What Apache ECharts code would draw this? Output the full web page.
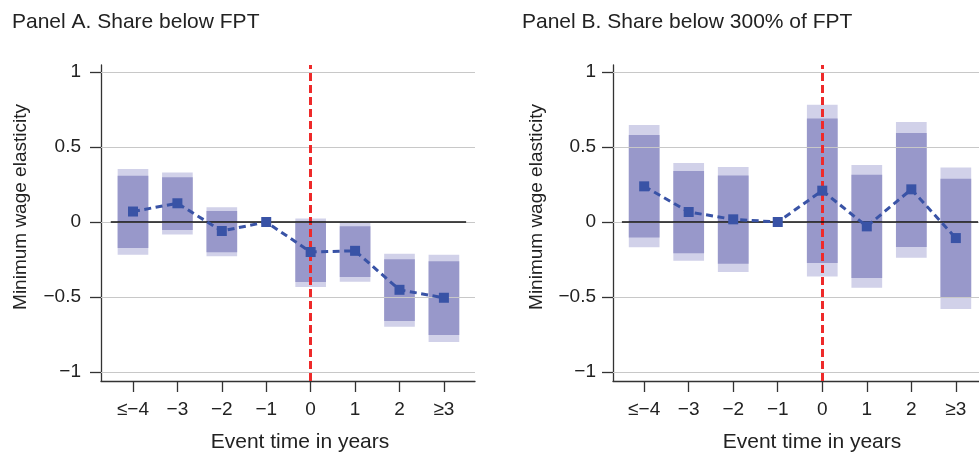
<!DOCTYPE html>
<html>
<head>
<meta charset="utf-8">
<script src="https://cdn.jsdelivr.net/npm/echarts@6/dist/echarts.min.js"></script>
<style>
html,body{margin:0;padding:0;background:#fff;}
#chart{width:979px;height:452px;}
</style>
</head>
<body>
<div id="chart"></div>
<script>
// ---- data ----
const eventTimes = [-4, -3, -2, -1, 0, 1, 2, 3];
const xTickLabels = ['≤−4', '−3', '−2', '−1', '0', '1', '2', '≥3'];
const yTicks = [-1, -0.5, 0, 0.5, 1];
const yTickLabels = ['−1', '−0.5', '0', '0.5', '1'];

const titleA = 'Panel A. Share below FPT';
const titleB = 'Panel B. Share below 300% of FPT';
const xName = 'Event time in years';
const yName = 'Minimum wage elasticity';

// Panel A
const pointA      = [0.070, 0.125, -0.060, 0, -0.200, -0.192, -0.452, -0.505];
const outerLowA   = [-0.218, -0.084, -0.229, null, -0.433, -0.398, -0.698, -0.800];
const innerLowA   = [-0.173, -0.053, -0.202, null, -0.400, -0.367, -0.660, -0.753];
const innerHighA  = [0.309, 0.298, 0.073, null, 0.002, -0.029, -0.249, -0.262];
const outerHighA  = [0.353, 0.331, 0.098, null, 0.024, 0.002, -0.211, -0.218];

// Panel B
const pointB      = [0.238, 0.067, 0.018, 0, 0.209, -0.029, 0.218, -0.107];
const outerLowB   = [-0.169, -0.258, -0.333, null, -0.364, -0.438, -0.238, -0.580];
const innerLowB   = [-0.104, -0.209, -0.278, null, -0.273, -0.373, -0.167, -0.502];
const innerHighB  = [0.580, 0.340, 0.311, null, 0.691, 0.316, 0.593, 0.289];
const outerHighB  = [0.647, 0.393, 0.367, null, 0.782, 0.380, 0.667, 0.364];

// ---- styling ----
const FONT = "'Liberation Sans', Arial, Helvetica, sans-serif";
const TXT = '#222';
const OUTER_COL = '#d1d1e9';
const INNER_COL = '#9898ca';
const LINE_COL = '#3953a6';
const RED = '#ee2a2a';

function ranges(lo, hi) {
  const out = [];
  eventTimes.forEach((t, i) => {
    if (lo[i] !== null && hi[i] !== null) out.push([t, lo[i], hi[i]]);
  });
  return out;
}

function renderBar(params, api) {
  const x = api.value(0);
  const p1 = api.coord([x, api.value(2)]);
  const p2 = api.coord([x, api.value(1)]);
  const w = api.size([1, 0])[0] * 0.69;
  return {
    type: 'rect',
    shape: { x: p1[0] - w / 2, y: p1[1], width: w, height: p2[1] - p1[1] },
    style: { fill: api.visual('color') }
  };
}

function xAxisCfg(idx, min, max, padLeft) {
  return {
    type: 'value', gridIndex: idx, min: min, max: max,
    axisLine: { show: true, onZero: false, lineStyle: { color: '#333', width: 1.3 } },
    axisTick: { show: true, length: 11, customValues: eventTimes, lineStyle: { color: '#333', width: 1.3 } },
    axisLabel: {
      customValues: eventTimes, margin: 19, fontSize: 19, color: TXT, fontFamily: FONT,
      formatter: v => xTickLabels[eventTimes.indexOf(Math.round(v))]
    },
    splitLine: { show: false },
    name: xName, nameLocation: 'middle', nameGap: 51,
    nameTextStyle: { fontSize: 21, color: TXT, fontFamily: FONT, padding: [0, 0, 0, padLeft] }
  };
}

function yAxisCfg(idx, margin, gap) {
  return {
    type: 'value', gridIndex: idx, min: -1.06, max: 1.047,
    axisLine: { show: true, onZero: false, lineStyle: { color: '#333', width: 1.3 } },
    axisTick: { show: true, length: 11, customValues: yTicks, lineStyle: { color: '#333', width: 1.3 } },
    axisLabel: {
      customValues: yTicks, margin: margin, fontSize: 19, color: TXT, fontFamily: FONT,
      formatter: v => yTickLabels[yTicks.indexOf(Math.round(v * 2) / 2)]
    },
    splitLine: { show: false },
    name: yName, nameLocation: 'middle', nameGap: gap, nameRotate: 90,
    nameTextStyle: { fontSize: 19, color: TXT, fontFamily: FONT, padding: [0, 0, 0, 32] }
  };
}

function panelSeries(idx, point, oLo, oHi, iLo, iHi) {
  return [
    { // grid lines + red event line
      type: 'line', xAxisIndex: idx, yAxisIndex: idx, z: 1, silent: true,
      data: eventTimes.map((t, i) => [t, point[i]]), symbol: 'none',
      lineStyle: { opacity: 0 },
      markLine: {
        silent: true, symbol: 'none', label: { show: false },
        animation: false,
        data: yTicks.map(v => ({ yAxis: v, lineStyle: { color: '#c8c8c8', width: 1, type: 'solid' } }))
          .concat([{ xAxis: 0, lineStyle: { color: RED, width: 3, type: [8, 4] } }])
      }
    },
    {
      type: 'custom', xAxisIndex: idx, yAxisIndex: idx, z: 2, silent: true,
      renderItem: renderBar, itemStyle: { color: OUTER_COL },
      encode: { x: 0, y: [1, 2] }, data: ranges(oLo, oHi)
    },
    {
      type: 'custom', xAxisIndex: idx, yAxisIndex: idx, z: 3, silent: true,
      renderItem: renderBar, itemStyle: { color: INNER_COL },
      encode: { x: 0, y: [1, 2] }, data: ranges(iLo, iHi)
    },
    { // zero line
      type: 'line', xAxisIndex: idx, yAxisIndex: idx, z: 4, silent: true,
      data: [], symbol: 'none',
      markLine: {
        silent: true, symbol: 'none', label: { show: false }, animation: false,
        data: [[{ coord: [-4.5, 0] }, { coord: [3.5, 0] }]],
        lineStyle: { color: '#111', width: 1.6, type: 'solid' }
      }
    },
    {
      type: 'line', xAxisIndex: idx, yAxisIndex: idx, z: 5, silent: true,
      data: eventTimes.map((t, i) => [t, point[i]]),
      symbol: 'rect', symbolSize: 10,
      itemStyle: { color: LINE_COL },
      lineStyle: { color: LINE_COL, width: 3, type: [7, 4.5] }
    }
  ];
}

const chart = echarts.init(document.getElementById('chart'), null, { renderer: 'canvas' });
chart.setOption({
  animation: false,
  backgroundColor: '#fff',
  title: [
    { text: titleA, left: 7, top: 7, textStyle: { fontSize: 21, fontWeight: 'normal', color: TXT, fontFamily: FONT } },
    { text: titleB, left: 517, top: 7, textStyle: { fontSize: 21, fontWeight: 'normal', color: TXT, fontFamily: FONT } }
  ],
  grid: [
    { left: 101, top: 65, width: 374, height: 316, containLabel: false, outerBoundsMode: 'none' },
    { left: 613, top: 65, width: 366, height: 316, containLabel: false, outerBoundsMode: 'none' }
  ],
  xAxis: [xAxisCfg(0, -4.72, 3.70, 24), xAxisCfg(1, -4.70, 3.52, 32)],
  yAxis: [yAxisCfg(0, 20, 71), yAxisCfg(1, 17, 67)],
  series: panelSeries(0, pointA, outerLowA, outerHighA, innerLowA, innerHighA)
    .concat(panelSeries(1, pointB, outerLowB, outerHighB, innerLowB, innerHighB))
});
</script>
</body>
</html>
